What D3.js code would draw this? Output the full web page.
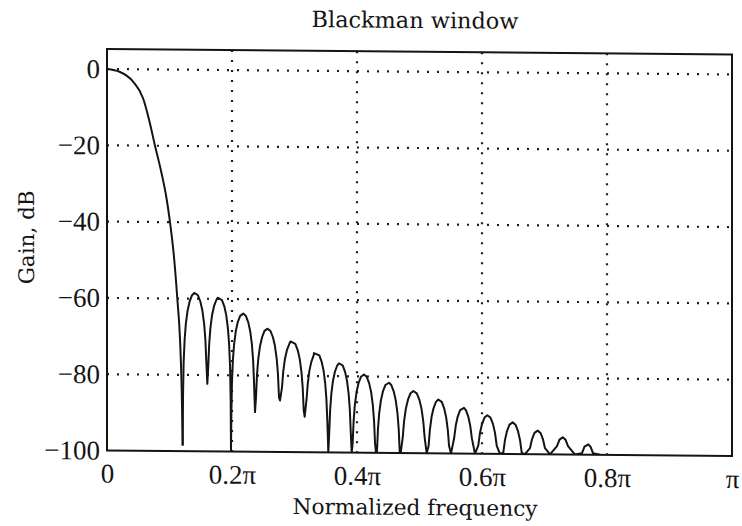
<!DOCTYPE html>
<html>
<head>
<meta charset="utf-8">
<script src="https://cdn.jsdelivr.net/npm/d3@7"></script>
<style>
  html, body { margin: 0; padding: 0; background: #ffffff; }
  svg { display: block; }
</style>
</head>
<body>
<svg id="chart" width="742" height="526"></svg>
<script>
// Gain response of a Blackman window, in dB against normalized frequency (units of π).
const titleText = "Blackman window";
const xLabelText = "Normalized frequency";
const yLabelText = "Gain, dB";

const xTicks = [0, 0.2, 0.4, 0.6, 0.8, 1];
const xTickLabels = ["0", "0.2π", "0.4π", "0.6π", "0.8π", "π"];
const yTicks = [0, -20, -40, -60, -80, -100];
const yTickLabels = ["0", "−20", "−40", "−60", "−80", "−100"];

// Main lobe trace: [frequency / π, gain dB]
const mainLobe = [
  [0, 0], [0.020, -0.7], [0.042, -3.3], [0.058, -7.7], [0.067, -13],
  [0.0768, -20], [0.087, -27], [0.0955, -34], [0.1008, -40], [0.107, -48.8],
  [0.1125, -60], [0.1168, -70.6], [0.1195, -83.7], [0.1211, -98.5]
];

// Sidelobe nulls (frequency / π, gain dB)
const nullFreq = [0.1211, 0.1605, 0.1984, 0.2368, 0.2768, 0.3163, 0.3541, 0.3915, 0.4304,
                  0.4699, 0.5115, 0.5504, 0.5888, 0.6288, 0.6688, 0.7088, 0.7488, 0.7888];
const nullGain = [-98.5, -82.3, -100, -89.6, -86.5, -90.7, -100, -100, -100,
                  -100, -100, -100, -100, -100, -100, -100, -100, -100];

// Sidelobe peaks (frequency / π, gain dB)
const peakFreq = [0.1397, 0.1771, 0.2181, 0.2571, 0.2936, 0.3312, 0.3712, 0.4112, 0.4512,
                  0.4901, 0.5301, 0.5712, 0.6085, 0.6491, 0.6891, 0.7291, 0.7701];
const peakGain = [-58.5, -59.7, -63.8, -67.7, -71.0, -74.0, -76.6, -79.5, -81.6,
                  -83.7, -85.9, -88.0, -89.9, -91.7, -93.8, -95.5, -97.3];

// Arch profile of a sidelobe: distance from the null (fraction of lobe width)
// and the level below the lobe peak (dB) at that distance.
const archFrac = [0.015, 0.04, 0.08, 0.13, 0.2, 0.28, 0.38];
const archDrop = [-26.5, -18.0, -12.1, -8.0, -4.6, -2.3, -0.6];

// Plot geometry
const plotLeft = 107, plotRight = 732, plotBottom = 450.5, zeroY = 69;
const yTop = 5.25; // gain at the top edge of the frame

const x = d3.scaleLinear().domain([0, 1]).range([plotLeft, plotRight]);
const y = d3.scaleLinear().domain([-100, 0]).range([plotBottom, zeroY]);

// Sidelobe trace, built lobe by lobe between successive nulls
const sideTrace = [[nullFreq[0], nullGain[0]]];
peakFreq.forEach((pf, i) => {
  const l = nullFreq[i], r = nullFreq[i + 1];
  const w = r - l, pk = peakGain[i];
  archFrac.forEach((f, k) => {
    const g = pk + archDrop[k];
    if (g > nullGain[i]) sideTrace.push([l + f * w, g]);
  });
  sideTrace.push([pf, pk]);
  for (let k = archFrac.length - 1; k >= 0; k--) {
    const g = pk + archDrop[k];
    if (g > nullGain[i + 1]) sideTrace.push([r - archFrac[k] * w, g]);
  }
  sideTrace.push([r, nullGain[i + 1]]);
});

const svg = d3.select("#chart");
const ink = "#141414";

// The whole figure sits with a slight downward slope to the right
const root = svg.append("g")
  .attr("transform", `translate(0,${-plotLeft * Math.tan(0.5 * Math.PI / 180)}) skewY(0.5)`);

root.append("defs").append("clipPath").attr("id", "plotClip")
  .append("rect")
  .attr("x", plotLeft).attr("y", y(yTop))
  .attr("width", plotRight - plotLeft).attr("height", plotBottom - y(yTop));

// Dotted grid
const grid = root.append("g")
  .attr("stroke", "#1c1c1c").attr("stroke-width", 2.2)
  .attr("stroke-dasharray", "2 8").attr("fill", "none");
grid.selectAll("line.h").data(yTicks.filter(v => v > -100)).join("line")
  .attr("class", "h")
  .attr("x1", plotLeft).attr("x2", plotRight)
  .attr("y1", d => y(d)).attr("y2", d => y(d));
grid.selectAll("line.v").data(xTicks.filter(v => v > 0 && v < 1)).join("line")
  .attr("class", "v")
  .attr("x1", d => x(d)).attr("x2", d => x(d))
  .attr("y1", y(yTop)).attr("y2", plotBottom);

// Gain curve: smooth main lobe, then the sidelobes
const curves = root.append("g")
  .attr("clip-path", "url(#plotClip)")
  .attr("fill", "none")
  .attr("stroke", ink)
  .attr("stroke-width", 2)
  .attr("stroke-linejoin", "round");

curves.append("path")
  .datum(mainLobe)
  .attr("d", d3.line()
    .x(d => x(d[0]))
    .y(d => y(Math.max(d[1], -100)))
    .curve(d3.curveMonotoneX));

curves.append("path")
  .datum(sideTrace)
  .attr("d", d3.line()
    .x(d => x(d[0]))
    .y(d => y(Math.max(d[1], -100))));

// Frame
root.append("rect")
  .attr("x", plotLeft).attr("y", y(yTop))
  .attr("width", plotRight - plotLeft).attr("height", plotBottom - y(yTop))
  .attr("fill", "none").attr("stroke", ink).attr("stroke-width", 2);

// Axes (labels only; the frame carries the lines)
const xAxis = d3.axisBottom(x).tickValues(xTicks)
  .tickFormat((d, i) => xTickLabels[i]).tickSize(0).tickPadding(13);
const gx = root.append("g").attr("transform", `translate(0,${plotBottom})`).call(xAxis);
const yAxis = d3.axisLeft(y).tickValues(yTicks)
  .tickFormat((d, i) => yTickLabels[i]).tickSize(0).tickPadding(7);
const gy = root.append("g").attr("transform", `translate(${plotLeft},0)`).call(yAxis);
[gx, gy].forEach(g => {
  g.select(".domain").remove();
  g.selectAll("text")
    .attr("fill", ink)
    .style("font-family", "'Liberation Serif', 'Times New Roman', serif")
    .style("font-size", "27px");
});

// Titles
root.append("text")
  .attr("x", 415).attr("y", 25.3)
  .attr("text-anchor", "middle")
  .attr("fill", ink)
  .style("font-family", "'DejaVu Serif', serif")
  .style("font-size", "22.4px")
  .text(titleText);

root.append("text")
  .attr("x", 415).attr("y", 512.3)
  .attr("text-anchor", "middle")
  .attr("fill", ink)
  .style("font-family", "'DejaVu Serif', serif")
  .style("font-size", "21.7px")
  .text(xLabelText);

root.append("text")
  .attr("transform", "translate(34,238) rotate(-90)")
  .attr("text-anchor", "middle")
  .attr("fill", ink)
  .style("font-family", "'DejaVu Serif', serif")
  .style("font-size", "21.5px")
  .text(yLabelText);
</script>
</body>
</html>
